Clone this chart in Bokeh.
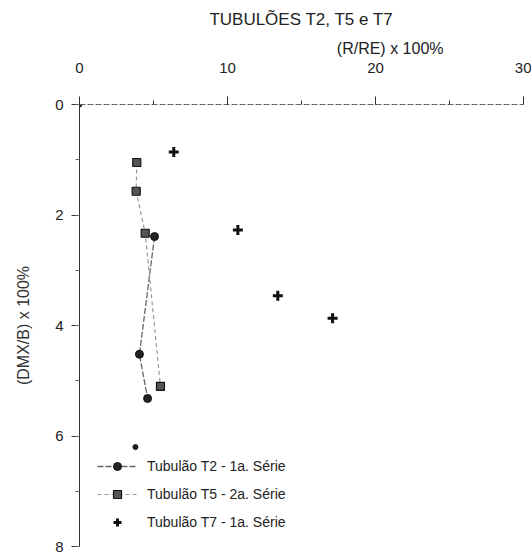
from bokeh.plotting import figure
from bokeh.models import Range1d, SingleIntervalTicker, Title
from bokeh.embed import file_html
from bokeh.resources import INLINE

title_text = "TUBULÕES T2, T5 e T7"
x_label = "(R/RE) x 100%"
y_label = "(DMX/B) x 100%"

series_names = ["Tubulão T2 - 1a. Série", "Tubulão T5 - 2a. Série", "Tubulão T7 - 1a. Série"]

# T2 - 1a. Série (connected points)
t2_x = [5.07, 4.05, 4.6]
t2_y = [2.39, 4.52, 5.32]
# isolated small dots
t2_extra_x = [0.0, 3.78]
t2_extra_y = [0.0, 6.2]
# T5 - 2a. Série
t5_x = [3.87, 3.83, 4.44, 5.47]
t5_y = [1.05, 1.57, 2.33, 5.1]
# T7 - 1a. Série
t7_x = [6.37, 10.7, 13.4, 17.1]
t7_y = [0.86, 2.27, 3.46, 3.87]

FONT = "Liberation Sans"

p = figure(width=531, height=555, output_backend="svg", toolbar_location=None,
           x_range=Range1d(0, 30), y_range=Range1d(8, 0),
           x_axis_location="above",
           min_border_left=79, min_border_right=8, min_border_top=104, min_border_bottom=9)

p.title.text = title_text
p.title.align = "center"
p.title.text_font = FONT
p.title.text_font_size = "17px"
p.title.text_font_style = "normal"
p.title.text_color = "#222222"
p.title.standoff = 14

p.outline_line_color = None
p.grid.grid_line_color = None
p.background_fill_color = "white"
p.border_fill_color = "white"

xa = p.xaxis[0]
xa.ticker = SingleIntervalTicker(interval=10, num_minor_ticks=2)
xa.axis_line_color = "#666666"
xa.axis_line_dash = "6 2"
xa.major_tick_out = 8
xa.major_tick_in = 0
xa.minor_tick_out = 4
xa.minor_tick_in = 0
xa.major_tick_line_color = "#333333"
xa.minor_tick_line_color = "#333333"
xa.major_label_text_font = FONT
xa.major_label_text_font_size = "15px"
xa.major_label_text_color = "#222222"
xa.major_label_standoff = 24

ya = p.yaxis[0]
ya.ticker = SingleIntervalTicker(interval=2, num_minor_ticks=2)
ya.axis_line_color = "#333333"
ya.major_tick_out = 8
ya.major_tick_in = 0
ya.minor_tick_out = 4
ya.minor_tick_in = 0
ya.major_tick_line_color = "#333333"
ya.minor_tick_line_color = "#666666"
ya.major_label_text_font = FONT
ya.major_label_text_font_size = "15px"
ya.major_label_text_color = "#222222"
ya.major_label_standoff = 8
ya.axis_label = y_label
ya.axis_label_text_font = FONT
ya.axis_label_text_font_size = "16px"
ya.axis_label_text_font_style = "normal"
ya.axis_label_text_color = "#333333"
ya.axis_label_standoff = 20

p.add_layout(Title(text=x_label, align="right", offset=80, text_font=FONT,
                   text_font_size="16px", text_font_style="normal",
                   text_color="#222222", standoff=5), "above")

# T2
p.line(t2_x, t2_y, line_color="#666666", line_width=1.3, line_dash="6 2",
       legend_label=series_names[0])
p.scatter(t2_x, t2_y, marker="circle", size=8, fill_color="#222222", line_color="#111111",
          legend_label=series_names[0])
p.scatter(t2_extra_x, t2_extra_y, marker="circle", size=5, fill_color="#222222", line_color="#111111")

# T5
p.line(t5_x, t5_y, line_color="#999999", line_width=1.2, line_dash="4 3",
       legend_label=series_names[1])
p.scatter(t5_x, t5_y, marker="square", size=8, fill_color="#555555", line_color="#111111",
          line_width=1.2, legend_label=series_names[1])

# T7
p.scatter(t7_x, t7_y, marker="cross", size=10, line_color="#111111", line_width=3,
          legend_label=series_names[2])

lg = p.legend[0]
lg.location = (18, 14)
lg.background_fill_alpha = 0
lg.border_line_color = None
lg.padding = 0
lg.margin = 0
lg.spacing = 8
lg.glyph_width = 40
lg.glyph_height = 20
lg.label_height = 20
lg.label_standoff = 10
lg.label_text_font = FONT
lg.label_text_font_size = "14px"
lg.label_text_color = "#222222"

open("out.html", "w").write(file_html(p, INLINE))
